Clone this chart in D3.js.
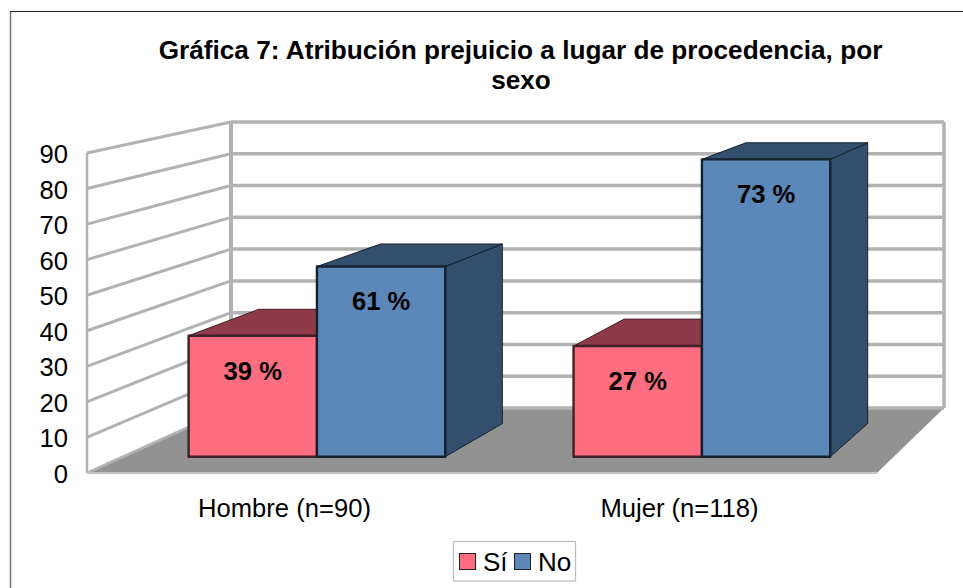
<!DOCTYPE html>
<html><head><meta charset="utf-8">
<script src="https://cdn.jsdelivr.net/npm/d3@7"></script>
<style>html,body{margin:0;padding:0;background:#fff}svg{display:block}text{font-family:"Liberation Sans",Arial,sans-serif;fill:#000}</style>
</head><body><div id="c"></div>
<script>
const titleLines = ["Gráfica 7: Atribución prejuicio a lugar de procedencia, por", "sexo"];
const categories = ["Hombre (n=90)", "Mujer (n=118)"];
const seriesNames = ["Sí", "No"];
const siValues = [35, 32];
const noValues = [55, 86];
const siLabels = ["39 %", "27 %"];
const noLabels = ["61 %", "73 %"];
const yTicks = [0, 10, 20, 30, 40, 50, 60, 70, 80, 90];

const W = 963, H = 588;
const svg = d3.select("#c").append("svg").attr("width", W).attr("height", H);

// front and back planes of the 3D box
const xFront = d3.scaleLinear().domain([0, 1]).range([87, 877]);
const xBack = d3.scaleLinear().domain([0, 1]).range([231, 944]);
const yFront = d3.scaleLinear().domain([0, 90]).range([473, 153]);
const yBack = d3.scaleLinear().domain([0, 90]).range([408, 122]);
const P = (u, v, d) => [
  xFront(u) + d * (xBack(u) - xFront(u)),
  yFront(v) + d * (yBack(v) - yFront(v))
];
const pathOf = pts => "M" + pts.map(p => p.join(",")).join("L") + "Z";
const lineOf = pts => "M" + pts.map(p => p.join(",")).join("L");

const x0 = d3.scaleBand().domain(categories).range([0, 1]);
const x1 = d3.scaleBand().domain(seriesNames).range([0, x0.bandwidth()]).paddingInner(0).paddingOuter(0.5);
const dFront = 0.26, dBack = 0.77;

// chart frame
svg.append("path").attr("d", `M10.5,${H}V11.5`).attr("fill", "none").attr("stroke", "#777").attr("stroke-width", 1.5);
svg.append("path").attr("d", `M10,11.5H${W}`).attr("fill", "none").attr("stroke", "#222").attr("stroke-width", 1);

// title
const title = svg.append("g").attr("text-anchor", "middle").attr("font-weight", "bold").attr("font-size", 26.2);
title.selectAll("text").data(titleLines).join("text")
  .attr("x", (d, i) => i ? 521 : 520.5).attr("y", (d, i) => 59 + i * 30).text(d => d);

// floor
svg.append("path").attr("fill", "#929292")
  .attr("d", pathOf([P(0, 0, 0), P(0, 0, 1), P(1, 0, 1), P(1, 0, 0)]));

// walls and gridlines
const grid = svg.append("g").attr("fill", "none").attr("stroke", "#b2b2b2");
grid.selectAll("path.side").data(yTicks).join("path").attr("class", "side").attr("stroke-width", 3)
  .attr("d", t => lineOf([P(0, t, 0), P(0, t, 1)]));
grid.selectAll("path.back").data(yTicks).join("path").attr("class", "back").attr("stroke-width", 3.5)
  .attr("d", t => lineOf([P(0, t, 1), P(1, t, 1)]));
grid.append("path").attr("stroke-width", 2.5).attr("d", lineOf([P(0, 0, 0), P(0, 90, 0)]));
grid.append("path").attr("stroke-width", 4).attr("d", lineOf([P(0, 0, 1), P(0, 90, 1)]));
grid.append("path").attr("stroke-width", 3.5).attr("d", lineOf([P(1, 0, 1), P(1, 90, 1)]));
grid.append("path").attr("stroke-width", 2).attr("stroke", "#c4c4c4").attr("d", lineOf([P(0, 0, 0), P(1, 0, 0)]));

// bars
const bars = [];
categories.forEach((c, i) => {
  bars.push({c, s: "Sí", v: siValues[i], l: siLabels[i], front: "#ff6d80", top: "#8e3a48", side: "#8e3a48", edge: "#3f2229"});
  bars.push({c, s: "No", v: noValues[i], l: noLabels[i], front: "#5b87b9", top: "#344e6e", side: "#344e6e", edge: "#14212f"});
});
const barG = svg.append("g").attr("stroke-linejoin", "round").attr("stroke-width", 2.4).attr("transform", "translate(0,0.6)");
bars.forEach(b => {
  const u0 = x0(b.c) + x1(b.s), u1 = u0 + x1.bandwidth();
  const g = barG.append("g");
  g.append("path").attr("fill", b.side).attr("stroke", b.edge).attr("stroke-width", 1)
    .attr("d", pathOf([P(u1, 0, dFront), P(u1, 0, dBack), P(u1, b.v, dBack), P(u1, b.v, dFront)]));
  g.append("path").attr("fill", b.top).attr("stroke", b.edge).attr("stroke-width", 1)
    .attr("d", pathOf([P(u0, b.v, dFront), P(u0, b.v, dBack), P(u1, b.v, dBack), P(u1, b.v, dFront)]));
  g.append("path").attr("fill", b.front).attr("stroke", b.edge)
    .attr("d", pathOf([P(u0, 0, dFront), P(u1, 0, dFront), P(u1, b.v, dFront), P(u0, b.v, dFront)]));
});
// data labels
svg.append("g").attr("text-anchor", "middle").attr("font-weight", "bold").attr("font-size", 25.6)
  .selectAll("text").data(bars).join("text")
  .attr("x", b => { const u = x0(b.c) + x1(b.s) + x1.bandwidth() / 2; return P(u, b.v, dFront)[0]; })
  .attr("y", b => P(0, b.v, dFront)[1] + 44.5)
  .text(b => b.l);

// y axis labels
svg.append("g").attr("text-anchor", "end").attr("font-size", 25.6)
  .selectAll("text").data(yTicks).join("text")
  .attr("x", 68).attr("y", t => yFront(t) + 10).text(t => t);

// x axis labels
svg.append("g").attr("text-anchor", "middle").attr("font-size", 25.6)
  .selectAll("text").data(categories).join("text")
  .attr("x", c => xFront(x0(c) + x0.bandwidth() / 2)).attr("y", 517).text(c => c);

// legend
const legend = svg.append("g");
legend.append("rect").attr("x", 453.5).attr("y", 541.5).attr("width", 122).attr("height", 39.5)
  .attr("fill", "#fff").attr("stroke", "#bdbdbd").attr("stroke-width", 1.2);
const legendColors = ["#ff6d80", "#5b87b9"], legendX = [459, 514];
seriesNames.forEach((s, i) => {
  legend.append("rect").attr("x", legendX[i] + .5).attr("y", 553.5).attr("width", 16).attr("height", 16)
    .attr("fill", legendColors[i]).attr("stroke", "#222").attr("stroke-width", 1);
  legend.append("text").attr("x", legendX[i] + 24).attr("y", 571).attr("font-size", 26).text(s);
});
</script></body></html>
